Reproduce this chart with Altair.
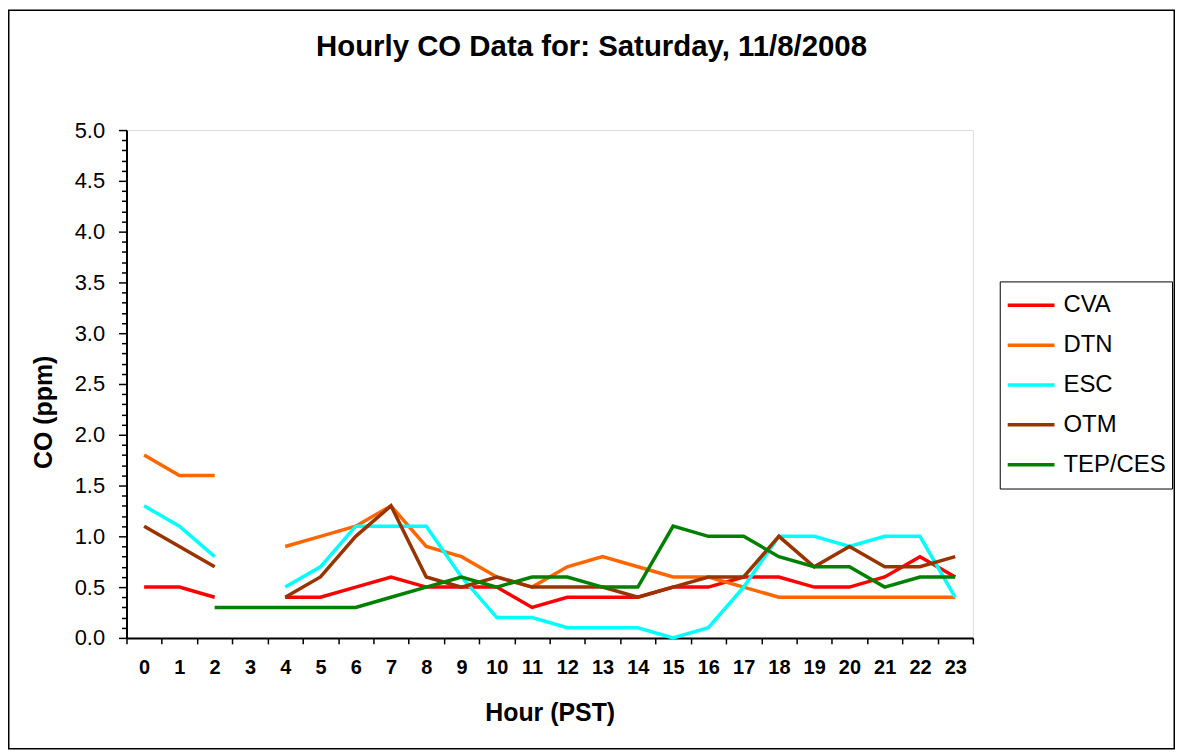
import altair as alt
import pandas as pd

# ---- data ----
hours = list(range(24))
series_names = ["CVA", "DTN", "ESC", "OTM", "TEP/CES"]
series_colors = ["#FF0000", "#FF6600", "#00FFFF", "#993300", "#008000"]
N = None
cva = [0.5, 0.5, 0.4, N, 0.4, 0.4, 0.5, 0.6, 0.5, 0.5, 0.5, 0.3, 0.4, 0.4, 0.4, 0.5, 0.5, 0.6, 0.6, 0.5, 0.5, 0.6, 0.8, 0.6]
dtn = [1.8, 1.6, 1.6, N, 0.9, 1.0, 1.1, 1.3, 0.9, 0.8, 0.6, 0.5, 0.7, 0.8, 0.7, 0.6, 0.6, 0.5, 0.4, 0.4, 0.4, 0.4, 0.4, 0.4]
esc = [1.3, 1.1, 0.8, N, 0.5, 0.7, 1.1, 1.1, 1.1, 0.6, 0.2, 0.2, 0.1, 0.1, 0.1, 0.0, 0.1, 0.5, 1.0, 1.0, 0.9, 1.0, 1.0, 0.4]
otm = [1.1, 0.9, 0.7, N, 0.4, 0.6, 1.0, 1.3, 0.6, 0.5, 0.6, 0.5, 0.5, 0.5, 0.4, 0.5, 0.6, 0.6, 1.0, 0.7, 0.9, 0.7, 0.7, 0.8]
tep = [N, N, 0.3, 0.3, 0.3, 0.3, 0.3, 0.4, 0.5, 0.6, 0.5, 0.6, 0.6, 0.5, 0.5, 1.1, 1.0, 1.0, 0.8, 0.7, 0.7, 0.5, 0.6, 0.6]

y_ticks = [round(i * 0.1, 1) for i in range(51)]
x_tick_edges = [h - 0.5 for h in range(25)]

FONT = "Liberation Sans, Arial, sans-serif"

rows = []
for name, vals in zip(series_names, [cva, dtn, esc, otm, tep]):
    for h, v in zip(hours, vals):
        rows.append({"hour": h, "station": name, "co": v})
df = pd.DataFrame(rows)

W, H = 850, 510
PAD = {"left": 119, "top": 121, "right": 203, "bottom": 112}
TOTAL_W = PAD["left"] + W + PAD["right"]
TOTAL_H = PAD["top"] + H + PAD["bottom"]

band_half = W / 24 / 2

lines = alt.Chart(df).mark_line(strokeWidth=3.5, invalid="break-paths-show-domains").encode(
    x=alt.X(
        "hour:Q",
        scale=alt.Scale(domain=[-0.5, 23.5], nice=False, zero=False),
        axis=alt.Axis(
            title="Hour (PST)",
            values=x_tick_edges,
            labelExpr="datum.value < 23 ? format(datum.value + 0.5, 'd') : ''",
            labelOffset=band_half,
            labelFlush=False,
            labelOverlap=False,
            labelFont=FONT,
            labelFontSize=20,
            labelFontWeight="bold",
            labelColor="black",
            labelBaseline="alphabetic",
            labelPadding=30,
            tickSize=6,
            tickColor="black",
            tickWidth=1.5,
            domainColor="black",
            domainWidth=2,
            grid=False,
            titleFont=FONT,
            titleFontSize=25,
            titleFontWeight="bold",
            titleColor="black",
            titleBaseline="alphabetic",
            titleY=83,
        ),
    ),
    y=alt.Y(
        "co:Q",
        scale=alt.Scale(domain=[0, 5], nice=False),
        axis=alt.Axis(
            title="CO (ppm)",
            values=y_ticks,
            labelExpr="round(datum.value * 10) % 5 == 0 ? format(datum.value, '.1f') : ''",
            labelOverlap=False,
            labelFlush=False,
            labelFont=FONT,
            labelFontSize=22,
            labelColor="black",
            labelPadding=14,
            tickSize={"condition": {"test": "round(datum.value * 10) % 5 == 0", "value": 8}, "value": 5},
            tickColor="black",
            tickWidth=1.5,
            domainColor="black",
            domainWidth=2,
            grid=False,
            titleFont=FONT,
            titleFontSize=25,
            titleFontWeight="bold",
            titleColor="black",
            titleAngle=270,
            titleAlign="center",
            titleBaseline="middle",
            titleX=-83,
            titleY=283,
        ),
    ),
    color=alt.Color(
        "station:N",
        scale=alt.Scale(domain=series_names, range=series_colors),
        legend=alt.Legend(
            title=None,
            orient="none",
            legendX=877,
            legendY=152,
            strokeColor="black",
            fillColor="white",
            padding=6,
            symbolType="stroke",
            symbolSize=47 * 47,
            symbolStrokeWidth=3.5,
            clipHeight=36,
            rowPadding=4,
            labelOffset=7,
            labelFont=FONT,
            labelFontSize=24,
            labelColor="black",
        ),
    ),
)

frame = alt.Chart(pd.DataFrame({"k": [0]})).mark_rect(
    fill="transparent", stroke="black", strokeWidth=1.5
).encode(
    x=alt.value(-PAD["left"] + 0.75),
    x2=alt.value(TOTAL_W - PAD["left"] - 0.75),
    y=alt.value(-PAD["top"] + 0.75),
    y2=alt.value(TOTAL_H - PAD["top"] - 0.75),
)

chart = alt.layer(frame, lines).properties(
    width=W,
    height=H,
    padding=PAD,
    autosize=alt.AutoSizeParams(type="none"),
    title=alt.TitleParams(
        text="Hourly CO Data for: Saturday, 11/8/2008",
        font=FONT,
        fontSize=29.5,
        fontWeight="bold",
        color="black",
        anchor="middle",
        frame="group",
        dx=42,
        dy=76,
        baseline="alphabetic",
        offset=0,
    ),
).configure_view(
    stroke="#808080", strokeWidth=2
).configure(background="white")

chart.save("out.html", embed_options={"renderer": "svg", "actions": False})
